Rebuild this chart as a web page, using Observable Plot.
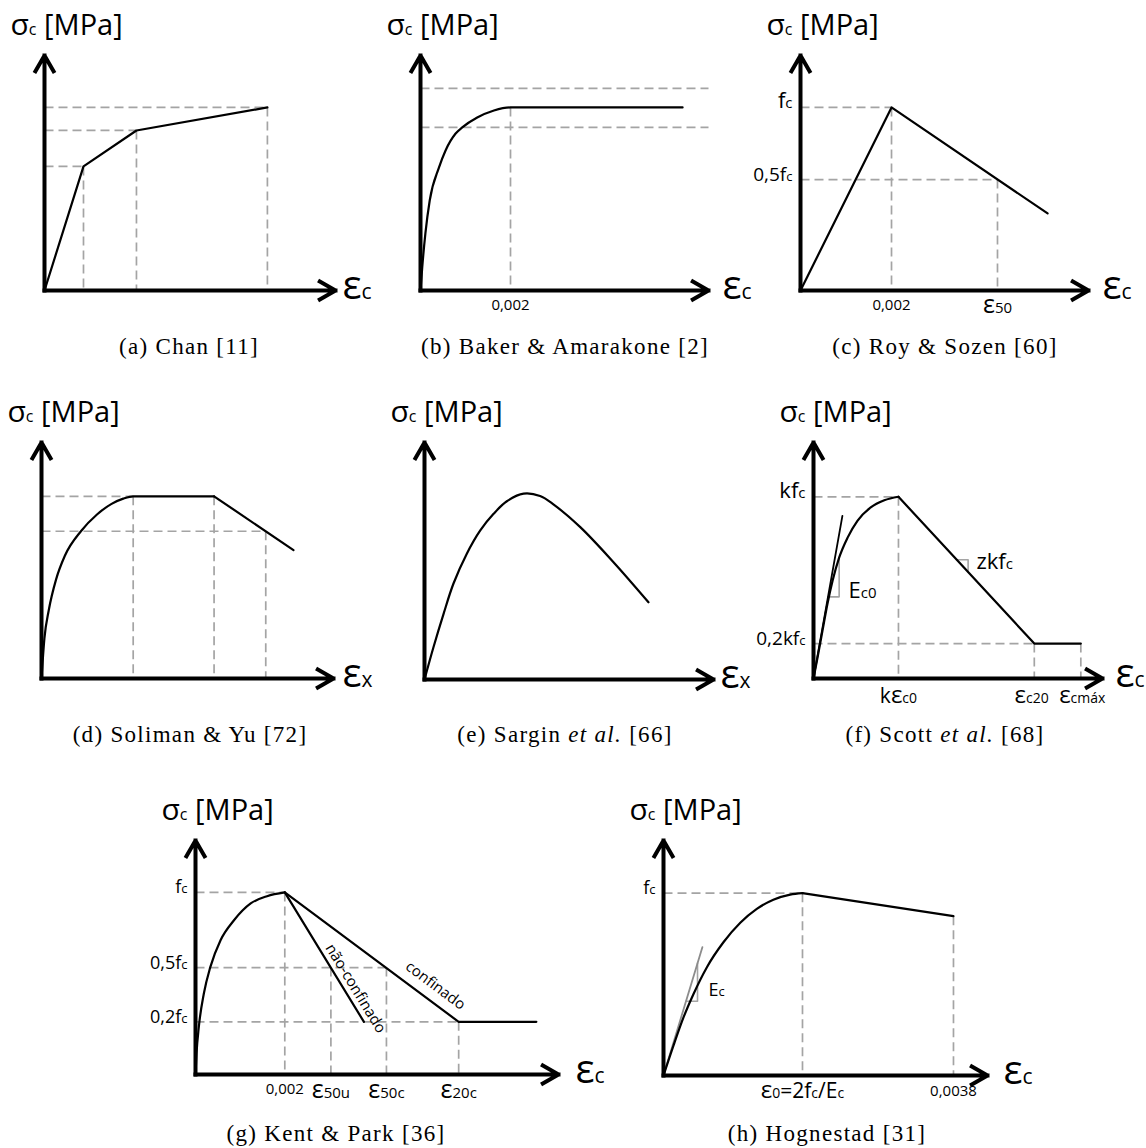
<!DOCTYPE html>
<html>
<head>
<meta charset="utf-8">
<script src="https://cdn.jsdelivr.net/npm/d3@7"></script>
<script src="https://cdn.jsdelivr.net/npm/@observablehq/plot@0.6"></script>
<style>
  body { margin: 0; background: #fff; }
  #page { position: relative; width: 1146px; height: 1148px; overflow: hidden; background: #fff; }
  #page svg { position: absolute; left: 0; top: 0; }
  .cap { position: absolute; font-family: "Liberation Serif", "DejaVu Serif", serif; font-size: 23px;
         letter-spacing: 1.3px; line-height: 23px; transform: translate(-50%, -50%); white-space: nowrap; color: #000; }
</style>
</head>
<body>
<div id="page"></div>
<script>
// ---------------- DATA (strain / stress in arbitrary diagram units, axis length = 10) ----------------
const titleText = "σ_{c} [MPa]";
const captions = [
  "(a) Chan [11]", "(b) Baker &amp; Amarakone [2]", "(c) Roy &amp; Sozen [60]",
  "(d) Soliman &amp; Yu [72]", "(e) Sargin <i>et al.</i> [66]", "(f) Scott <i>et al.</i> [68]",
  "(g) Kent &amp; Park [36]", "(h) Hognestad [31]"
];

// (a) Chan – trilinear
const chanCurve = [[0, 0], [1.34, 5.28], [3.16, 6.81], [7.66, 7.79]];

// (b) Baker & Amarakone
const bakerCurve = [[0, 0], [0.06, 0.98], [0.17, 2.43], [0.32, 3.83], [0.64, 5.23], [0.87, 5.96],
  [1.22, 6.68], [1.45, 6.94], [1.97, 7.36], [2.55, 7.66], [3.125, 7.79], [9.10, 7.79]];
const bakerBands = [8.60, 6.94];
const bakerPeakStrain = 3.125;
const bakerPeakStress = 7.79;
const bakerTicks = [{x: 3.125, t: "0,002"}];

// (c) Roy & Sozen
const royCurve = [[0, 0], [3.16, 7.79], [8.58, 3.28]];
const royPoints = [[3.16, 7.79], [6.84, 4.72]];
const royYLabelsBig = [{y: 7.79, t: "f_{c}"}];
const royYLabelsSmall = [{y: 4.72, t: "0,5f_{c}"}];
const royTicks = [{x: 3.16, t: "0,002"}];
const royEpsTicks = [{x: 6.84, t: "ε_{50}"}];

// (d) Soliman & Yu
const solimanRise = [[0, 0], [0.1, 1.7], [0.25, 2.9], [0.5, 4.2], [0.8, 5.2], [1.35, 6.24],
  [1.9, 6.95], [2.4, 7.4], [2.8, 7.62], [3.14, 7.72], [5.91, 7.72]];
const solimanTail = [[5.91, 7.72], [8.63, 5.44]];
const solimanPoints = [[3.14, 7.72], [5.91, 7.72], [7.68, 6.24]];

// (e) Sargin et al.
const sarginCurve = [[0, 0], [0.31, 1.36], [0.66, 2.77], [1.00, 4.04], [1.46, 5.30], [1.93, 6.29],
  [2.39, 6.99], [2.85, 7.52], [3.43, 7.84], [4.00, 7.74], [4.46, 7.39], [5.39, 6.43], [6.54, 4.95], [7.75, 3.26]];

// (f) Scott et al.
const scottRise = [[0, 0], [0.14, 0.89], [0.31, 2.02], [0.48, 3.15], [0.66, 4.14], [0.89, 5.13],
  [1.18, 5.97], [1.52, 6.68], [1.98, 7.25], [2.45, 7.55], [2.94, 7.70]];
const scottTail = [[2.94, 7.70], [7.64, 1.48], [9.25, 1.48]];
const scottTangent = [[0, 0], [1.00, 6.89]];
const scottSlopeA = [[0.50, 3.46], [0.888, 3.46], [0.888, 5.13]];
const scottSlopeB = [[4.96, 5.03], [5.35, 5.03], [5.35, 4.51]];
const scottPoints = [[2.94, 7.70], [7.64, 1.48], [9.25, 1.48]];
const scottYLabelsBig = [{y: 7.70, t: "kf_{c}"}];
const scottYLabelsSmall = [{y: 1.48, t: "0,2kf_{c}"}];
const scottEpsTicks = [{x: 2.94, t: "kε_{c0}"}, {x: 7.55, t: "ε_{c20}"}, {x: 9.3, t: "ε_{cmáx}"}];
const scottNotes = [{x: 1.21, y: 3.43, t: "E_{c0}"}, {x: 5.64, y: 4.62, t: "zkf_{c}"}];

// (g) Kent & Park
const kentRise = [[0, 0], [0.028, 0.90], [0.092, 2.04], [0.23, 3.46], [0.41, 4.60], [0.69, 5.74],
  [1.06, 6.59], [1.52, 7.31], [1.97, 7.62], [2.46, 7.78]];
const kentUnconfined = [[2.46, 7.78], [4.64, 2.25]];
const kentConfined = [[2.46, 7.78], [7.25, 2.25], [9.39, 2.25]];
const kentLevels = {fc: 7.78, half: 4.57, fifth: 2.25};
const kentStrains = {peak: 2.46, e50u: 3.73, e50c: 5.26, e20c: 7.25};
const kentYLabels = [{y: 7.78, t: "f_{c}"}, {y: 4.57, t: "0,5f_{c}"}, {y: 2.25, t: "0,2f_{c}"}];
const kentTicks = [{x: 2.46, t: "0,002"}];
const kentEpsTicks = [{x: 3.73, t: "ε_{50u}"}, {x: 5.26, t: "ε_{50c}"}, {x: 7.25, t: "ε_{20c}"}];
const kentBranchLabels = [
  {x: 4.41, y: 3.68, t: "não-confinado", r: 58.6},
  {x: 6.61, y: 3.80, t: "confinado", r: 36.6}
];

// (h) Hognestad
const hogRise = [[0, 0], [0.31, 1.28], [0.62, 2.48], [0.93, 3.48], [1.34, 4.61], [1.85, 5.67],
  [2.37, 6.50], [2.88, 7.09], [3.39, 7.48], [3.91, 7.70], [4.29, 7.76]];
const hogTail = [[4.29, 7.76], [8.95, 6.78]];
const hogTangent = [[0, 0], [1.20, 5.46]];
const hogSlope = [[0.695, 3.16], [1.05, 3.16], [1.05, 4.78]];
const hogYLabels = [{y: 7.76, t: "f_{c}"}];
const hogTicks = [{x: 8.95, t: "0,0038"}];
const hogEpsTicks = [{x: 4.29, t: "ε_{0}=2f_{c}/E_{c}"}];
const hogNotes = [{x: 1.39, y: 3.40, t: "E_{c}"}];

// ---------------- LAYOUT & STYLE ----------------
const W = 1146, H = 1148;
const FONT = "'Open Sans', 'Noto Sans', sans-serif";
const GRAY = "#a4a4a4";
const LW = 2.2;
// sizes for rich text: [enlarged greek, subscript]
const SIZES = {
  title: [30, 16], end: [40, 21], tick: [15, 11], eps: [25, 15], epsF: [24, 14], hogeps: [24, 14],
  ylBig: [22, 15], ylSmall: [19, 13], yl: [18, 13], noteF: [22, 15], noteH: [18, 13]
};

const X = d => d[0], Y = d => d[1];
const corner = ([x, y]) => [[0, y, x, y], [x, y, x, 0]];

function frame(cfg, marks) {
  const svg = Plot.plot({
    width: W, height: H,
    marginLeft: cfg.ox, marginRight: W - cfg.xEnd, marginTop: cfg.yTop, marginBottom: H - cfg.oy,
    x: {domain: [0, 10], axis: null},
    y: {domain: [0, 10], axis: null},
    style: {fontFamily: FONT, background: "transparent", overflow: "visible", color: "#000"},
    marks: [
      ...marks,
      Plot.arrow([[0, 0, 0, 10], [0, 0, 10, 0]], {
        x1: d => d[0], y1: d => d[1], x2: d => d[2], y2: d => d[3],
        stroke: "#000", strokeWidth: 4, headLength: 6.8, headAngle: 60, strokeLinecap: "square"
      }),
      Plot.text([titleText], {x: 0, y: 10, text: d => d, textAnchor: "start", lineAnchor: "bottom",
        dx: -34, dy: -21, fontSize: 29, ariaDescription: "title"}),
      Plot.text([cfg.end || "ε_{c}"], {x: 10, y: 0, text: d => d, textAnchor: "start", lineAnchor: "bottom",
        dx: cfg.endDx, dy: 8, fontSize: 21, ariaDescription: "end"})
    ]
  });
  rich(svg);
  return svg;
}

function guides(segs) {
  return Plot.link(segs, {x1: d => d[0], y1: d => d[1], x2: d => d[2], y2: d => d[3],
    stroke: GRAY, strokeWidth: 1.7, strokeDasharray: "9,5"});
}
function curve(data, c = "linear", o = {}) {
  return Plot.line(data, {x: X, y: Y, curve: c, stroke: "#000", strokeWidth: LW, ...o});
}
function ylab(data, desc, fs) {
  return Plot.text(data, {x: 0, y: "y", text: "t", textAnchor: "end", lineAnchor: "bottom", dx: -8, dy: 1,
    fontSize: fs, ariaDescription: desc});
}
function xlab(data, desc, fs, dy) {
  return Plot.text(data, {x: "x", y: 0, text: "t", textAnchor: "middle", lineAnchor: "bottom", dy,
    fontSize: fs, ariaDescription: desc});
}
function note(data, desc, fs) {
  return Plot.text(data, {x: "x", y: "y", text: "t", textAnchor: "start", lineAnchor: "bottom",
    fontSize: fs, ariaDescription: desc});
}

function rich(svg) {
  const NS = "http://www.w3.org/2000/svg";
  svg.querySelectorAll("g[aria-description]").forEach(g => {
    const sz = SIZES[g.getAttribute("aria-description")];
    if (!sz) return;
    g.querySelectorAll("text").forEach(t => {
      const s = t.textContent;
      if (!/[_εσ]/.test(s)) return;
      t.textContent = "";
      const re = /_\{([^}]*)\}|([εσ])|([^_εσ]+)/g;
      let m;
      while ((m = re.exec(s))) {
        const ts = document.createElementNS(NS, "tspan");
        if (m[1] !== undefined) { ts.textContent = m[1]; ts.setAttribute("font-size", sz[1]); }
        else if (m[2]) { ts.textContent = m[2]; ts.setAttribute("font-size", sz[0]); }
        else ts.textContent = m[3];
        t.appendChild(ts);
      }
    });
  });
}

const page = document.getElementById("page");
const add = svg => page.appendChild(svg);

// (a)
add(frame({ox: 44, oy: 290, xEnd: 335, yTop: 55, endDx: 7}, [
  guides(chanCurve.slice(1).flatMap(corner)),
  curve(chanCurve)
]));

// (b)
add(frame({ox: 420, oy: 290, xEnd: 708, yTop: 55, endDx: 14}, [
  guides([...bakerBands.map(v => [0, v, 10, v]), [bakerPeakStrain, bakerPeakStress, bakerPeakStrain, 0]]),
  curve(bakerCurve, "monotone-x"),
  xlab(bakerTicks, "tick", 15, 19)
]));

// (c)
add(frame({ox: 800, oy: 290, xEnd: 1088, yTop: 55, endDx: 14}, [
  guides(royPoints.flatMap(corner)),
  curve(royCurve),
  ylab(royYLabelsBig, "ylBig", 22),
  ylab(royYLabelsSmall, "ylSmall", 19),
  xlab(royTicks, "tick", 15, 19),
  xlab(royEpsTicks, "eps", 15, 22)
]));

// (d)
add(frame({ox: 41, oy: 678, xEnd: 333, yTop: 442, endDx: 9, end: "ε_{x}"}, [
  guides([...corner(solimanPoints[0]), [solimanPoints[1][0], solimanPoints[1][1], solimanPoints[1][0], 0], ...corner(solimanPoints[2])]),
  curve(solimanRise, "monotone-x"),
  curve(solimanTail)
]));

// (e)
add(frame({ox: 424, oy: 679, xEnd: 713, yTop: 442, endDx: 7, end: "ε_{x}"}, [
  curve(sarginCurve, "catmull-rom")
]));

// (f)
add(frame({ox: 813, oy: 678, xEnd: 1102, yTop: 442, endDx: 13}, [
  guides([...corner(scottPoints[0]), ...corner(scottPoints[1]), [scottPoints[2][0], scottPoints[2][1], scottPoints[2][0], 0]]),
  curve(scottSlopeA, "linear", {stroke: GRAY, strokeWidth: 1.6}),
  curve(scottSlopeB, "linear", {stroke: GRAY, strokeWidth: 1.6}),
  curve(scottTangent, "linear", {strokeWidth: 1.8}),
  curve(scottRise, "monotone-x"),
  curve(scottTail),
  ylab(scottYLabelsBig, "ylBig", 22),
  ylab(scottYLabelsSmall, "ylSmall", 19),
  xlab(scottEpsTicks, "epsF", 21, 24),
  note(scottNotes, "noteF", 22)
]));

// (g)
add(frame({ox: 195, oy: 1074, xEnd: 558, yTop: 840, endDx: 17}, [
  guides([
    ...corner([kentStrains.peak, kentLevels.fc]),
    [0, kentLevels.half, kentStrains.e50c, kentLevels.half],
    [kentStrains.e50u, kentLevels.half, kentStrains.e50u, 0],
    [kentStrains.e50c, kentLevels.half, kentStrains.e50c, 0],
    ...corner([kentStrains.e20c, kentLevels.fifth])
  ]),
  curve(kentRise, "monotone-x"),
  curve(kentUnconfined),
  curve(kentConfined),
  ylab(kentYLabels, "yl", 18),
  xlab(kentTicks, "tick", 15, 19),
  xlab(kentEpsTicks, "eps", 15, 23),
  Plot.text(kentBranchLabels, {x: "x", y: "y", text: "t", rotate: d => d.r, fontSize: 15,
    textAnchor: "middle", lineAnchor: "middle"})
]));

// (h)
add(frame({ox: 663, oy: 1075, xEnd: 987, yTop: 840, endDx: 16}, [
  guides([...corner(hogRise[hogRise.length - 1]), [hogTail[1][0], hogTail[1][1], hogTail[1][0], 0]]),
  curve(hogSlope, "linear", {stroke: GRAY, strokeWidth: 1.6}),
  curve(hogTangent, "linear", {stroke: "#8c8c8c", strokeWidth: 1.8}),
  curve(hogRise, "monotone-x"),
  curve(hogTail),
  ylab(hogYLabels, "yl", 18),
  xlab(hogTicks, "tick", 15, 20),
  xlab(hogEpsTicks, "hogeps", 21, 22),
  note(hogNotes, "noteH", 18)
]));

// captions
const capPos = [[189, 346], [565, 346], [945, 346], [190, 734], [565, 734], [945, 734], [336, 1133], [827, 1133]];
captions.forEach((c, i) => {
  const d = document.createElement("div");
  d.className = "cap";
  d.style.left = capPos[i][0] + "px";
  d.style.top = capPos[i][1] + "px";
  d.innerHTML = c;
  page.appendChild(d);
});
</script>
</body>
</html>
